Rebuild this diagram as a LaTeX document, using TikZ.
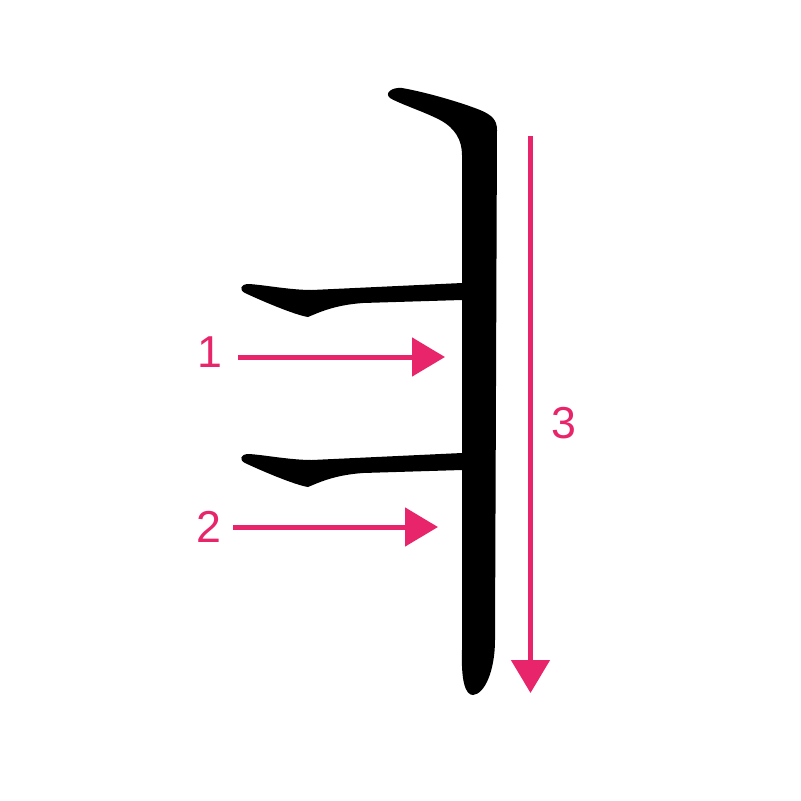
\documentclass[tikz,border=0pt]{standalone}
\usepackage{fontspec}
\setmainfont{Liberation Sans}
\usetikzlibrary{arrows.meta}
\definecolor{pinkc}{HTML}{E8256A}
\tikzset{
  stroke/.style={fill=black},
  order/.style={draw=pinkc, line width=5pt, -{Triangle[length=33pt,width=38pt]}},
  num/.style={text=pinkc, font=\fontsize{44.7}{50}\selectfont, inner sep=0pt}
}
\begin{document}
\begin{tikzpicture}[x=1pt,y=-1pt]
\useasboundingbox[fill=white] (0,0) rectangle (801,801);
% vertical stroke with hook
\fill[stroke] (390,98) .. controls (384,93) and (392,87) .. (402,88)
  .. controls (425,92) and (460,102) .. (480,110)
  .. controls (492,115) and (497,120) .. (497,130)
  -- (495,640)
  .. controls (495,670) and (485,694) .. (473,695)
  .. controls (465,695) and (461,680) .. (462,650)
  -- (462,155)
  .. controls (462,140) and (455,128) .. (440,120)
  .. controls (425,112) and (400,104) .. (390,98) -- cycle;
% horizontal strokes
\foreach \dy in {0,170}{
  \begin{scope}[yshift=-\dy pt]
  \fill[stroke] (245,293) .. controls (239,290) and (240,284) .. (249,284)
    .. controls (265,285) and (290,290) .. (312,290)
    -- (462,283) -- (462,300) -- (363,303)
    .. controls (335,305) and (320,312) .. (308,317)
    .. controls (295,315) and (262,301) .. (245,293) -- cycle;
  \end{scope}
}
% arrows
\coordinate (a1s) at (238,357);
\coordinate (a1e) at (445,357);
\coordinate (a2s) at (233,527);
\coordinate (a2e) at (438,527);
\coordinate (a3s) at (530.5,136);
\coordinate (a3e) at (530.5,693);
\draw[order] (a1s) -- (a1e);
\draw[order] (a2s) -- (a2e);
\draw[order] (a3s) -- (a3e);
\node[num] (n1) at (210,352) {1};
\node[num] (n2) at (209,527) {2};
\node[num] (n3) at (564,423) {3};
\end{tikzpicture}
\end{document}
